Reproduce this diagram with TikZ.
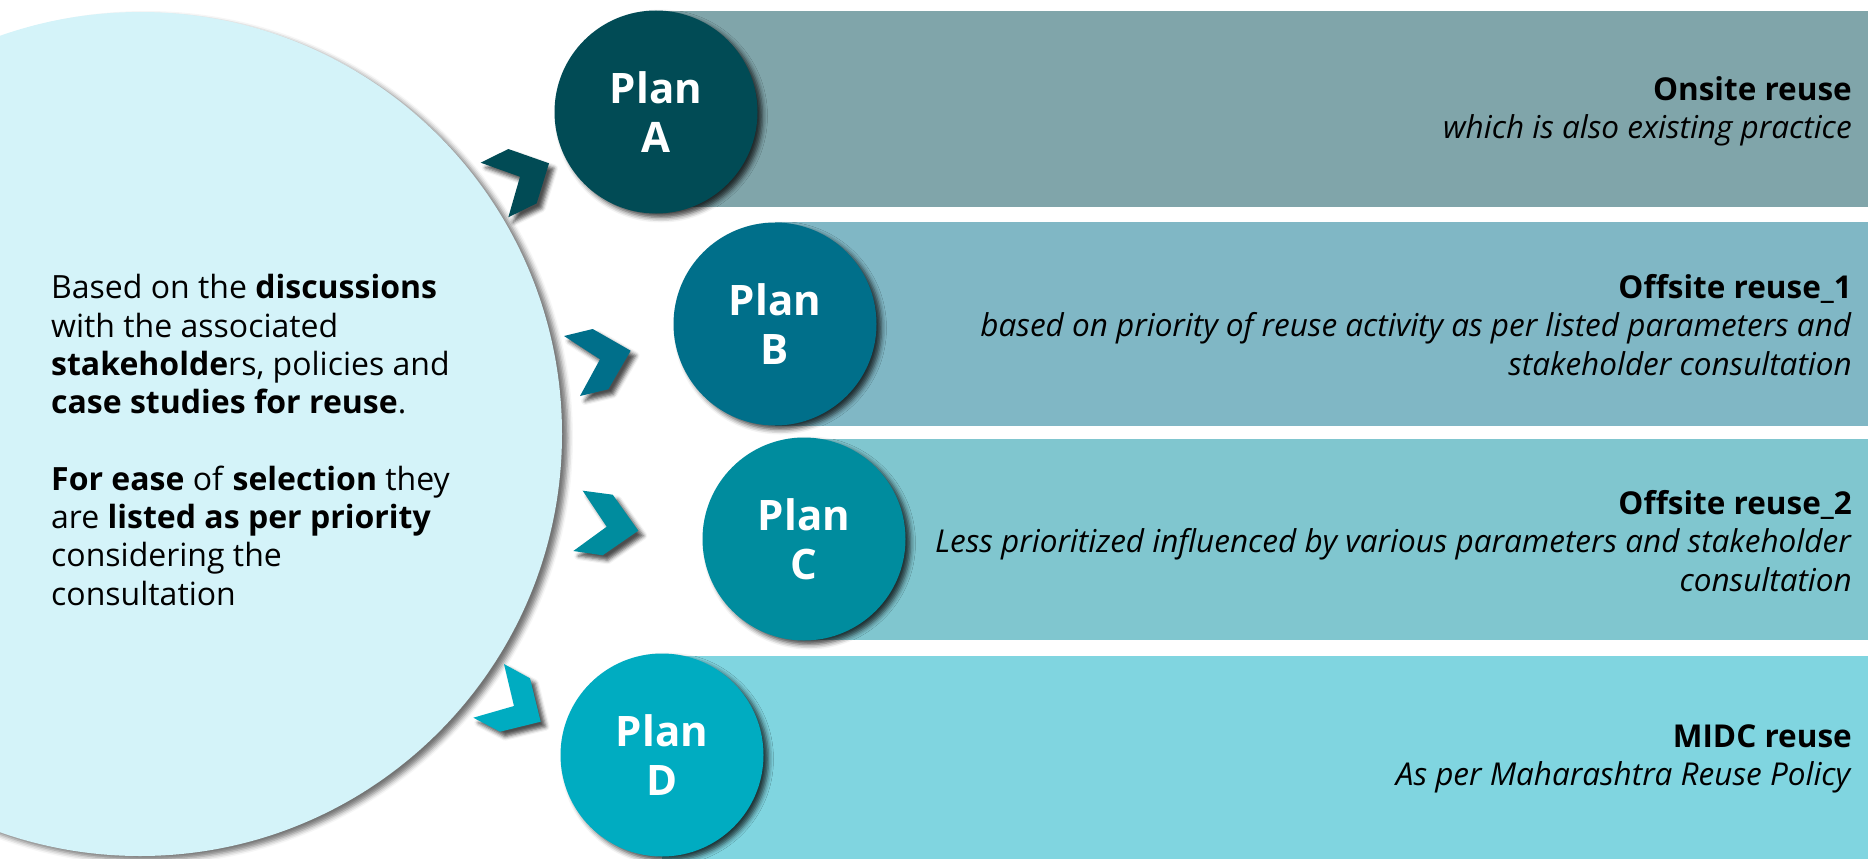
\documentclass[tikz,border=0pt]{standalone}
\usepackage{fontspec}
\setmainfont{Open Sans}
\usetikzlibrary{shadows.blur}

\definecolor{planA}{RGB}{1, 75, 85}
\definecolor{planB}{RGB}{0, 111, 138}
\definecolor{planC}{RGB}{0, 140, 158}
\definecolor{planD}{RGB}{0, 172, 193}
\definecolor{introfill}{RGB}{212, 243, 249}

\tikzset{
  plan/.style={circle, minimum size=203pt, inner sep=0pt, text=white, align=center,
    font=\fontsize{42}{49}\selectfont\bfseries,
    blur shadow={shadow xshift=5pt, shadow yshift=-4pt, shadow blur radius=5pt, shadow opacity=75}},
  chev/.style={blur shadow={shadow xshift=5pt, shadow yshift=-5pt, shadow blur radius=4pt, shadow opacity=70}},
  option/.style={anchor=east, align=right, inner sep=0pt, font=\fontsize{31.5}{38.3}\selectfont},
}

\begin{document}
\begin{tikzpicture}[x=1pt, y=-1pt]
  \useasboundingbox (0,0) rectangle (1868,859);
  \clip (0,0) rectangle (1868,859);

  % Option bars
  \fill[planA!50] (656,11) rectangle (1868,207);
  \fill[planB!50] (775,222) rectangle (1868,426);
  \fill[planC!50] (804,439) rectangle (1868,640);
  \fill[planD!50] (662,656) rectangle (1868,859);

  % Plan circles
  \node[plan, fill=planA] (pa) at (656,112) {Plan\\A};
  \node[plan, fill=planB] (pb) at (775,324) {Plan\\B};
  \node[plan, fill=planC] (pc) at (804,539) {Plan\\C};
  \node[plan, fill=planD] (pd) at (662,755) {Plan\\D};

  % Intro circle
  \fill[introfill, blur shadow={shadow xshift=6pt, shadow yshift=-4pt, shadow blur radius=5pt, shadow opacity=55}]
    (140,434) circle[radius=422];

  \node[anchor=west, align=left, inner sep=0pt, font=\fontsize{32}{38.3}\selectfont] (intro) at (51,440) {
    Based on the \textbf{discussions}\\
    with the associated\\
    \textbf{stakeholde}rs, policies and\\
    \textbf{case studies for reuse}.\\[38.3pt]
    \textbf{For ease} of \textbf{selection} they\\
    are \textbf{listed as per priority}\\
    considering the\\
    consultation
  };

  % Chevrons
  \fill[planA, chev] (480.7,162.7) -- (508.3,149) -- (549,163.3) -- (536.7,203.3) -- (508.3,217.3) -- (520,176.7) -- cycle;
  \fill[planB, chev] (564,336) -- (592.7,329) -- (630.7,350.7) -- (608.3,389.3) -- (580,396) -- (600,359.3) -- cycle;
  \fill[planC, chev] (582.7,490.7) -- (612.7,494.7) -- (638.3,530.7) -- (602.7,555.3) -- (573.3,551) -- (606.7,526.7) -- cycle;
  \fill[planD, chev] (504,664) -- (530,678.3) -- (540.7,721.7) -- (500,731.7) -- (473.3,717.7) -- (514,706) -- cycle;

  % Option texts
  \node[option] (ta) at (1852,111) {\textbf{Onsite reuse}\\
    \textit{which is also existing practice}};
  \node[option] (tb) at (1852,325) {\textbf{Offsite reuse\_1}\\
    \textit{based on priority of reuse activity as per listed parameters and}\\
    \textit{stakeholder consultation}};
  \node[option] (tc) at (1852,541) {\textbf{Offsite reuse\_2}\\
    \textit{Less prioritized influenced by various parameters and stakeholder}\\
    \textit{consultation}};
  \node[option] (td) at (1852,759) {\textbf{MIDC reuse}\\
    \textit{As per Maharashtra Reuse Policy}};
\end{tikzpicture}
\end{document}
